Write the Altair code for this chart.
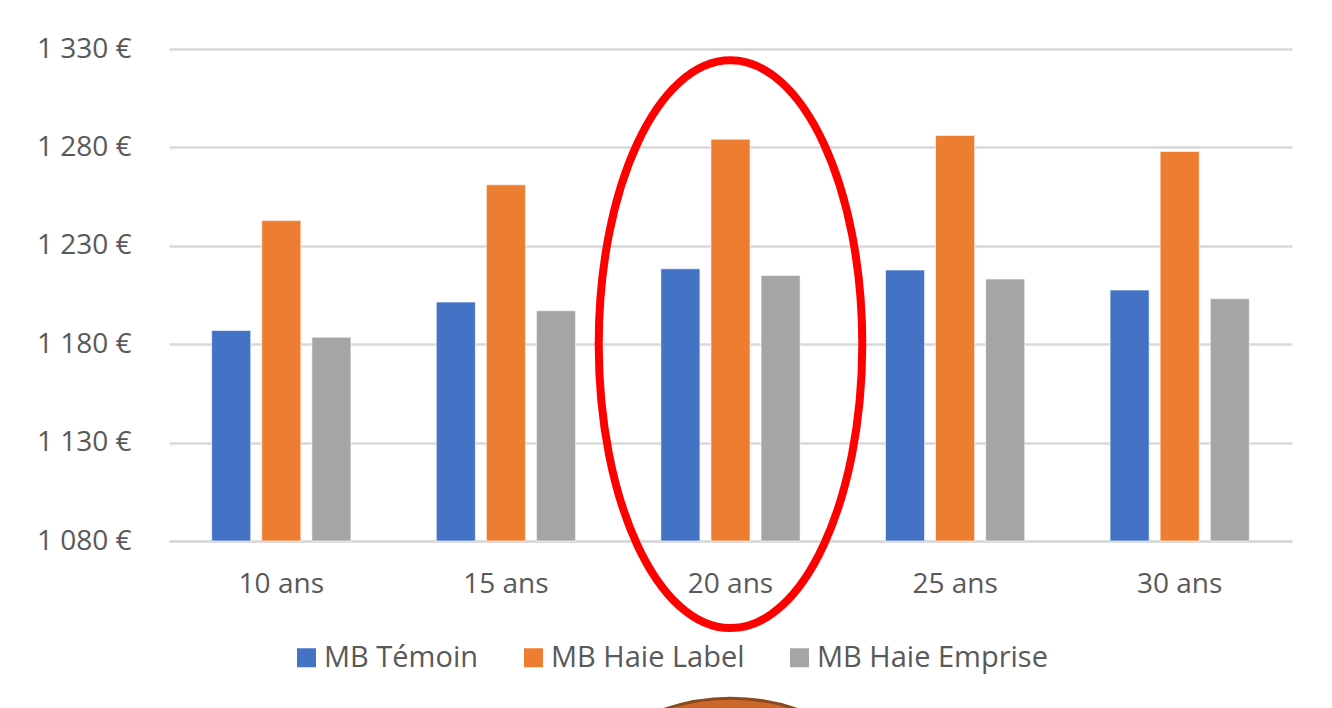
import altair as alt
import pandas as pd

categories = ["10 ans", "15 ans", "20 ans", "25 ans", "30 ans"]
series = ["MB Témoin", "MB Haie Label", "MB Haie Emprise"]
temoin = [1187.0, 1201.4, 1218.3, 1217.7, 1207.5]
haie_label = [1242.8, 1261.0, 1284.2, 1286.0, 1277.9]
haie_emprise = [1183.5, 1197.0, 1214.9, 1213.1, 1203.1]
colors = ["#4472C4", "#ED7D31", "#A5A5A5"]
y_ticks = [1080, 1130, 1180, 1230, 1280, 1330]

# annotations
highlight_category = ["20 ans"]
highlight_value = [1180]
blob_category = ["20 ans"]
blob_value = [897]

rows = []
for s, vals in zip(series, [temoin, haie_label, haie_emprise]):
    for c, v in zip(categories, vals):
        rows.append({"cat": c, "serie": s, "val": v, "base": y_ticks[0]})
df = pd.DataFrame(rows)

FONT = "Open Sans"
GRAY_TXT = "#595959"
ydom = [y_ticks[0], y_ticks[-1]]

xscale = alt.Scale(domain=categories, paddingInner=0.38, paddingOuter=0.19)
yscale = alt.Scale(domain=ydom, nice=False, zero=False)

bars = alt.Chart(df).mark_bar(stroke="white", strokeWidth=0.6).encode(
    x=alt.X("cat:N", scale=xscale, sort=categories,
            axis=alt.Axis(title=None, labelAngle=0, ticks=False, labelPadding=29,
                          labelFontSize=28, labelFont=FONT, labelColor=GRAY_TXT,
                          domainColor="#d9d9d9", domainWidth=2.5, grid=False)),
    xOffset=alt.XOffset("serie:N", sort=series,
                        scale=alt.Scale(domain=series, paddingInner=0.22, paddingOuter=0)),
    y=alt.Y("val:Q", scale=yscale,
            axis=alt.Axis(title=None, values=y_ticks, domain=False, ticks=False,
                          labelPadding=38, labelFontSize=28, labelFont=FONT,
                          labelColor=GRAY_TXT, gridColor="#d9d9d9", gridWidth=2.5,
                          labelExpr="replace(format(datum.value, ',d'), ',', ' ') + ' €'")),
    y2="base:Q",
    color=alt.Color("serie:N", sort=series,
                    scale=alt.Scale(domain=series, range=colors),
                    legend=alt.Legend(title=None, orient="none", direction="horizontal",
                                      legendX=123, legendY=594,
                                      symbolType="square", symbolSize=361,
                                      symbolStrokeWidth=0, labelFontSize=29,
                                      labelFont=FONT, labelColor=GRAY_TXT,
                                      labelOffset=3, columnPadding=40,
                                      labelLimit=400)),
)

k = 0.5523
a = 131.8 / 283.9
ka = k * a
ellipse_path = (
    f"M 0 -1 C {ka:.4f} -1 {a:.4f} -{k} {a:.4f} 0 "
    f"C {a:.4f} {k} {ka:.4f} 1 0 1 "
    f"C -{ka:.4f} 1 -{a:.4f} {k} -{a:.4f} 0 "
    f"C -{a:.4f} -{k} -{ka:.4f} -1 0 -1 Z"
)

ell_df = pd.DataFrame({"cat": highlight_category, "val": highlight_value})
ellipse = alt.Chart(ell_df).mark_point(
    shape=ellipse_path, size=567.8 ** 2, filled=False, stroke="#FF0000",
    strokeWidth=8, opacity=1
).encode(
    x=alt.X("cat:N", scale=xscale, sort=categories),
    y=alt.Y("val:Q", scale=yscale),
)

blob_df = pd.DataFrame({"cat": blob_category, "val": blob_value})
blob = alt.Chart(blob_df).mark_point(
    shape="circle", size=406 ** 2, filled=True, fill="#C8692A",
    stroke="#8A4A1E", strokeWidth=3, opacity=1
).encode(
    x=alt.X("cat:N", scale=xscale, sort=categories),
    y=alt.Y("val:Q", scale=yscale),
)

chart = alt.layer(bars, ellipse, blob).properties(
    width=1123, height=492,
    padding={"left": 161, "top": 41, "right": 32, "bottom": 167},
    autosize=alt.AutoSizeParams(type="none"),
    background="white",
).configure_view(stroke=None)

chart.save("out.html", embed_options={"renderer": "svg", "actions": False})
